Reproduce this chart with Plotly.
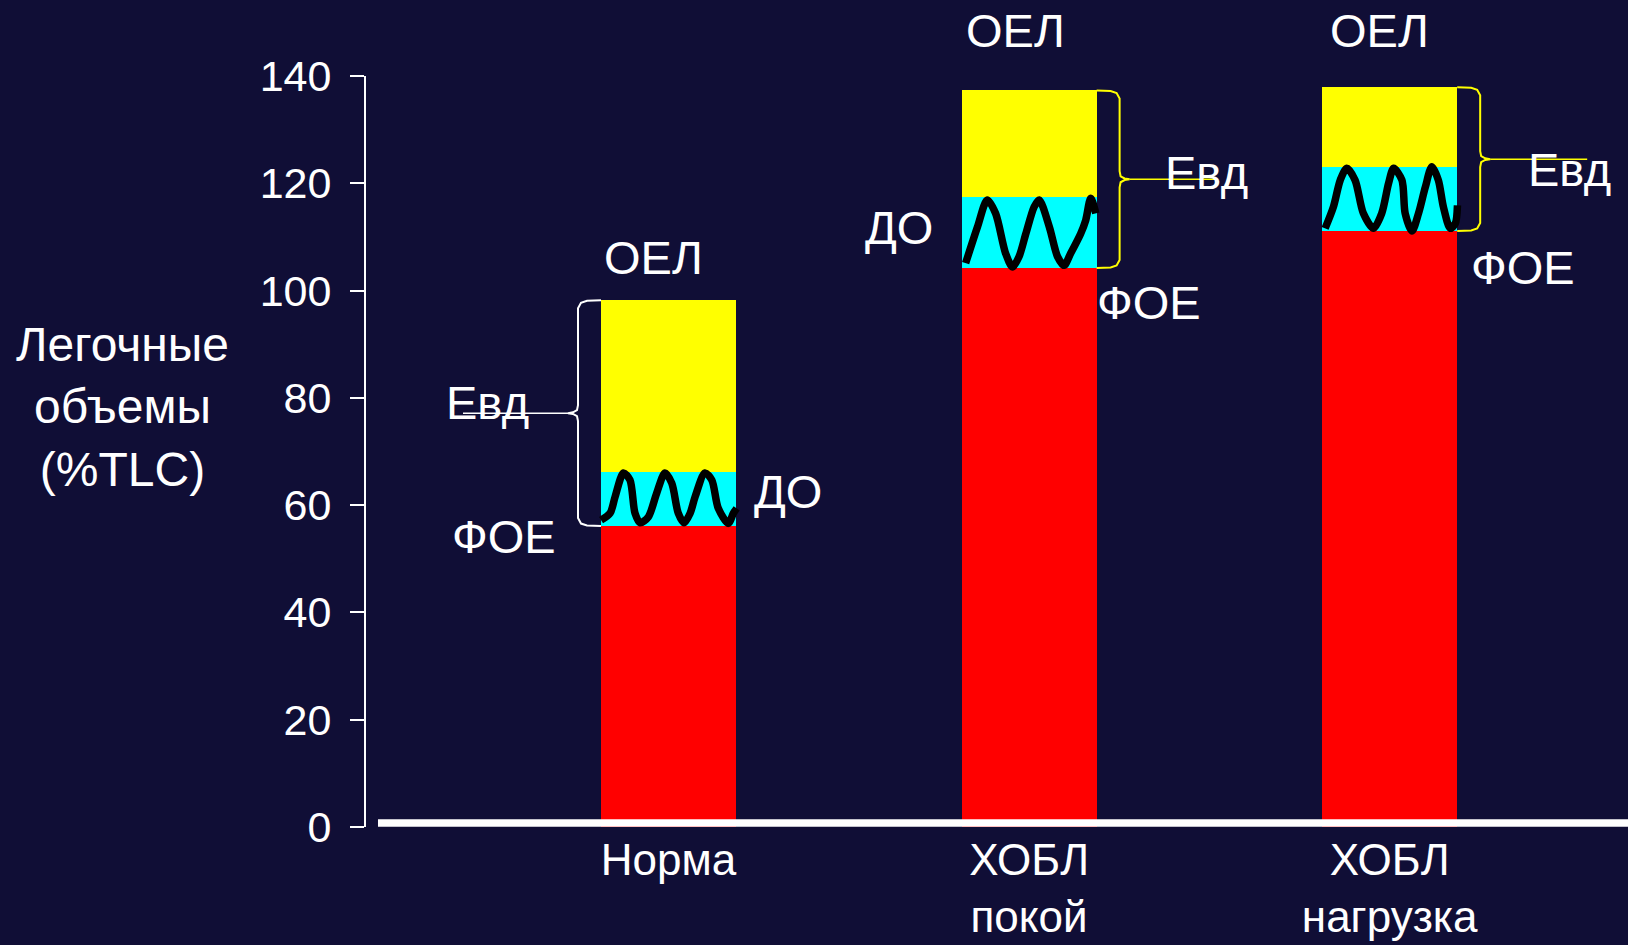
import plotly.graph_objects as go

# Lung volume components, % of total lung capacity
categories = ["Норма", "ХОБЛ<br>покой", "ХОБЛ<br>нагрузка"]
x_pos = [0, 1, 2]
foe = [56.1, 104.2, 111.1]            # ФОЕ (red)
tidal = [10.1, 13.2, 11.9]            # ДО band (cyan)
insp_reserve = [32.0, 19.9, 14.9]     # up to ОЕЛ (yellow)
y_ticks = [0, 20, 40, 60, 80, 100, 120, 140]
Y_MAX = 140

# Breathing curves inside the ДО band: x is offset from the bar centre, y in %TLC
wave_dx = [
    [-0.187, -0.162, -0.148, -0.125, -0.107, -0.093, -0.079, -0.056, -0.033, -0.010,
     0.009, 0.027, 0.043, 0.060, 0.074, 0.101, 0.120, 0.138, 0.166, 0.180, 0.189],
    [-0.176, -0.143, -0.116, -0.093, -0.065, -0.046, -0.028, -0.009, 0.014, 0.028,
     0.056, 0.079, 0.097, 0.115, 0.143, 0.157, 0.171, 0.185],
    [-0.179, -0.156, -0.137, -0.119, -0.096, -0.073, -0.045, -0.022, -0.003, 0.011,
     0.034, 0.043, 0.062, 0.080, 0.099, 0.117, 0.135, 0.149, 0.168, 0.182, 0.188],
]
wave_y = [
    [57.2, 58.5, 61.6, 66.0, 64.7, 58.5, 56.7, 57.8, 62.2, 66.0,
     64.1, 58.5, 56.7, 58.5, 61.6, 66.0, 64.7, 59.4, 56.6, 58.5, 59.4],
    [105.1, 111.9, 116.9, 114.4, 106.9, 104.4, 106.3, 110.6, 115.6, 116.9,
     111.9, 106.3, 104.7, 106.9, 110.6, 113.1, 117.2, 114.4],
    [111.6, 115.6, 120.6, 122.8, 120.6, 114.4, 111.6, 114.4, 120.0, 122.8,
     120.6, 114.4, 111.1, 114.4, 119.3, 123.1, 120.6, 115.6, 111.6, 112.5, 115.9],
]

BG = "#100e36"
FONT = "Liberation Sans, Arial, sans-serif"
BAR_W = 0.3745
PX_X = 1 / 360.55   # data units per pixel, horizontal
PX_Y = 1 / 5.366    # data units per pixel, vertical

fig = go.Figure()

fig.add_trace(go.Bar(x=x_pos, y=foe, width=BAR_W, marker=dict(color="#ff0000", line=dict(width=0))))
fig.add_trace(go.Bar(x=x_pos, y=tidal, width=BAR_W, marker=dict(color="#00ffff", line=dict(width=0))))
fig.add_trace(go.Bar(x=x_pos, y=insp_reserve, width=BAR_W, marker=dict(color="#ffff00", line=dict(width=0))))

for xc, dxs, ys in zip(x_pos, wave_dx, wave_y):
    fig.add_trace(go.Scatter(
        x=[xc + d for d in dxs], y=ys, mode="lines",
        line=dict(color="black", width=7.5, shape="spline", smoothing=0.8),
    ))

# Curly braces spanning ФОЕ .. ОЕЛ, with a leader line towards the Евд label
brace_side = [-1, 1, 1]
brace_color = ["white", "#ffff00", "#ffff00"]
leader_len = [138, 119, 130]

for i, xc in enumerate(x_pos):
    side = brace_side[i]
    bot = foe[i]
    top = foe[i] + tidal[i] + insp_reserve[i]
    mid = (bot + top) / 2
    xe = xc + side * BAR_W / 2
    ax = lambda p: xe + side * p * PX_X
    bx = [ax(0), ax(14), ax(20), ax(23), ax(23), ax(24), ax(28), ax(33),
          ax(28), ax(24), ax(23), ax(23), ax(20), ax(14), ax(0)]
    by = [top, top - 0.6 * PX_Y, top - 2.5 * PX_Y, top - 8 * PX_Y,
          mid + 8 * PX_Y, mid + 3 * PX_Y, mid + 0.8 * PX_Y, mid,
          mid - 0.8 * PX_Y, mid - 3 * PX_Y, mid - 8 * PX_Y,
          bot + 8 * PX_Y, bot + 2.5 * PX_Y, bot + 0.6 * PX_Y, bot]
    fig.add_trace(go.Scatter(x=bx, y=by, mode="lines",
                             line=dict(color=brace_color[i], width=2)))
    fig.add_trace(go.Scatter(x=[ax(33), ax(leader_len[i])], y=[mid, mid], mode="lines",
                             line=dict(color=brace_color[i], width=1.5)))

# Volume labels (y in %TLC; some sit above the axis range, so they go on paper y)
label_text = ["ОЕЛ", "Евд", "ФОЕ", "ДО",
              "ОЕЛ", "Евд", "ДО", "ФОЕ",
              "ОЕЛ", "Евд", "ФОЕ"]
label_x = [-0.043, -0.503, -0.456, 0.330,
           0.963, 1.491, 0.639, 1.333,
           1.971, 2.498, 2.370]
label_y = [106.2, 79.2, 54.1, 62.6,
           148.4, 122.0, 111.7, 97.7,
           148.4, 122.6, 104.3]

annotations = [
    dict(x=x, y=y / Y_MAX, xref="x", yref="paper", text=t, showarrow=False,
         xanchor="center", yanchor="middle",
         font=dict(family=FONT, size=47, color="white"))
    for t, x, y in zip(label_text, label_x, label_y)
]
annotations.append(dict(
    x=-0.1933, y=78.3 / Y_MAX, xref="paper", yref="paper",
    text="Легочные<br>объемы<br>(%TLC)", showarrow=False,
    xanchor="center", yanchor="middle", align="center",
    font=dict(family=FONT, size=48, color="white"),
))

fig.update_layout(
    width=1628, height=945, autosize=False,
    paper_bgcolor=BG, plot_bgcolor=BG,
    margin=dict(l=366, r=0, t=76, b=118, pad=0, autoexpand=False),
    barmode="stack", bargap=0, showlegend=False, hovermode=False,
    annotations=annotations,
    shapes=[dict(type="line", xref="paper", yref="y",
                 x0=0.0095, x1=1, y0=0.75, y1=0.75,
                 line=dict(color="white", width=7.5), layer="above")],
    xaxis=dict(
        range=[-0.839, 2.661], showgrid=False, zeroline=False, showline=False,
        automargin=False,
        tickmode="array", tickvals=x_pos, ticktext=categories, ticks="",
        tickfont=dict(family=FONT, size=44, color="white"),
        ticklabelstandoff=3,
    ),
    yaxis=dict(
        range=[0, Y_MAX], showgrid=False, zeroline=False, automargin=False,
        showline=True, linecolor="white", linewidth=2,
        ticks="outside", ticklen=14, tickwidth=2, tickcolor="white",
        tickmode="array", tickvals=y_ticks,
        tickfont=dict(family=FONT, size=43, color="white"),
        ticklabelstandoff=10,
    ),
)

fig.write_html("out.html")
